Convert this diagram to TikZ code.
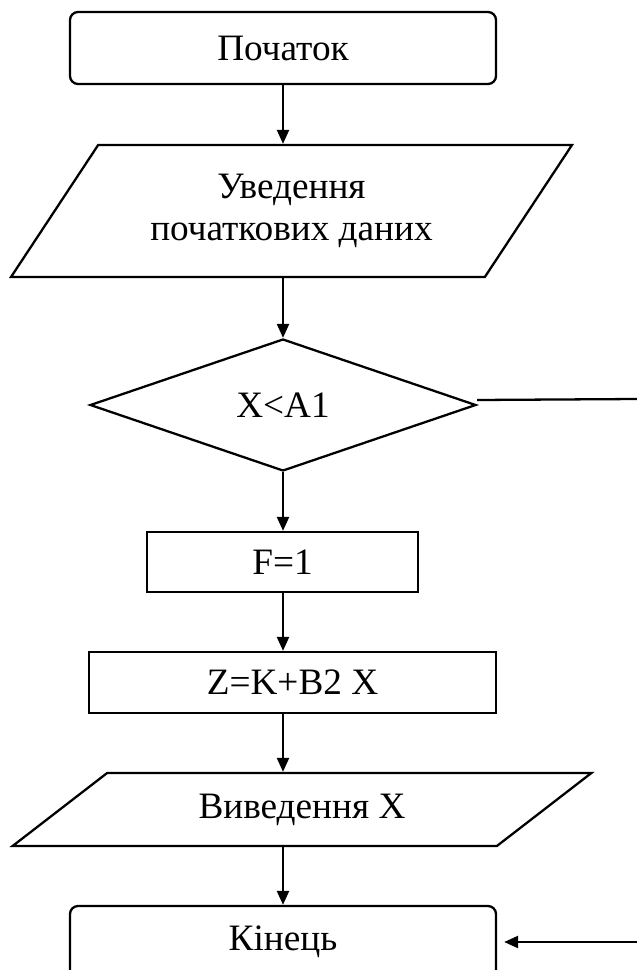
\documentclass[tikz,border=0pt]{standalone}
\usepackage{fontspec}
\setmainfont{Liberation Serif}
\usetikzlibrary{%
  arrows.meta,%
  shapes.geometric,% wg. trapezium, diamond
  calc
}

\tikzset{
  blk/.style={draw, line width=1.3pt, inner sep=0pt, align=center,
    font=\fontsize{21.2}{24}\selectfont},
  term/.style={blk, rectangle, rounded corners=0.16cm, minimum width=8.52cm, minimum height=1.44cm},
  proc/.style={blk, rectangle},
  io/.style={blk, trapezium, trapezium stretches=true},
  flow/.style={-{Triangle[length=0.28cm,width=0.24cm]}, line width=1.3pt}
}

\begin{document}
\begin{tikzpicture}
\useasboundingbox (0,0) rectangle (12.74,-19.4);

%Start, input and condition
\node[term] (start) at (5.66,-0.96) {Початок};
\node[io, trapezium left angle=49.2, trapezium right angle=130.8,
  minimum width=11.26cm, minimum height=2.64cm] (in) at (5.83,-4.22) {Уведення\\початкових даних};
\node[blk, diamond, aspect=2.9, minimum width=7.72cm, minimum height=2.64cm] (cond) at (5.66,-8.1) {X<A1};

% Assignments
\node[proc, minimum width=5.42cm, minimum height=1.2cm] (fset) at (5.65,-11.24) {F=1};
\node[proc, minimum width=8.14cm, minimum height=1.22cm] (zcalc) at (5.85,-13.65) {Z=K+B2 X};

% Output and end
\node[io, trapezium left angle=32.2, trapezium right angle=147.8,
  minimum width=11.6cm, minimum height=1.46cm] (out) at (6.04,-16.19) {Виведення X};
\node[term] (fin) at (5.66,-18.84) {Кінець};

% free ends at the right border
\coordinate (condR) at (12.74,-7.98);
\coordinate (finR) at (12.74,-18.84);

\draw[flow] (start.south) -- (start.south |- in.north);
\draw[flow] (start.south |- in.south) -- (cond.north);
\draw[flow] (cond.south) -- (cond.south |- fset.north);
\draw[flow] (cond.south |- fset.south) -- (cond.south |- zcalc.north);
\draw[flow] (cond.south |- zcalc.south) -- (cond.south |- out.north);
\draw[flow] (cond.south |- out.south) -- (fin.north);

\draw[line width=1.3pt] ([yshift=0.1cm]cond.east) -- (condR);
\draw[flow, shorten >=0.14cm] (finR) -- (fin.east);
\end{tikzpicture}
\end{document}
